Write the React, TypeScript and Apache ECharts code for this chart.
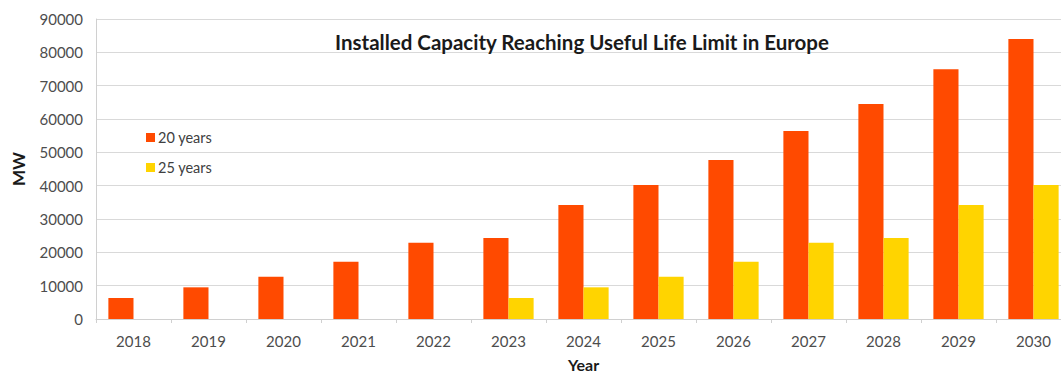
import React, { useEffect, useRef } from "react";
import * as echarts from "echarts";

const years = ["2018", "2019", "2020", "2021", "2022", "2023", "2024", "2025", "2026", "2027", "2028", "2029", "2030"];
const twentyYears = [6300, 9500, 12700, 17200, 22900, 24300, 34200, 40200, 47700, 56400, 64500, 74900, 84000];
const twentyFiveYears = [0, 0, 0, 0, 0, 6300, 9500, 12700, 17200, 22900, 24300, 34200, 40200];
const seriesNames = ["20 years", "25 years"];

const FONT = "Lato, 'Open Sans', sans-serif";

export default function App() {
  const ref = useRef<HTMLDivElement>(null);

  useEffect(() => {
    if (!ref.current) return;
    const chart = echarts.init(ref.current, undefined, { renderer: "svg" });
    chart.setOption({
      animation: false,
      backgroundColor: "#ffffff",
      textStyle: { fontFamily: FONT },
      title: {
        text: "Installed Capacity Reaching Useful Life Limit in Europe",
        left: 577,
        top: 26,
        textAlign: "center",
        textStyle: { fontFamily: FONT, fontSize: 20.5, fontWeight: "bold", color: "#1a1a1a" },
      },
      legend: {
        orient: "vertical",
        left: 141,
        top: 125,
        itemWidth: 9,
        itemHeight: 9,
        itemGap: 15,
        icon: "rect",
        data: seriesNames,
        textStyle: { fontFamily: FONT, fontSize: 14.5, color: "#404040", padding: [0, 0, 0, -2] },
      },
      grid: { left: 96, top: 19, height: 300, width: 975, outerBoundsMode: "none", containLabel: false },
      xAxis: {
        type: "category",
        data: years,
        name: "Year",
        nameLocation: "middle",
        nameGap: 37,
        nameTextStyle: { fontFamily: FONT, fontSize: 16, fontWeight: "bold", color: "#1a1a1a" },
        axisLine: { lineStyle: { color: "#d0d0d0" } },
        axisTick: { show: true, length: 4, lineStyle: { color: "#d0d0d0" } },
        axisLabel: { fontFamily: FONT, fontSize: 15, color: "#4d4d4d", margin: 14 },
      },
      yAxis: {
        type: "value",
        min: 0,
        max: 90000,
        interval: 10000,
        name: "MW",
        nameLocation: "middle",
        nameGap: 69,
        nameRotate: 90,
        nameTextStyle: { fontFamily: FONT, fontSize: 17, fontWeight: "bold", color: "#1a1a1a" },
        axisLine: { show: true, lineStyle: { color: "#d0d0d0" } },
        axisTick: { show: false },
        axisLabel: {
          fontFamily: FONT,
          fontSize: 15,
          color: "#4d4d4d",
          margin: 13,
          formatter: (v: number) => String(v),
        },
        splitLine: { lineStyle: { color: "#d9d9d9" } },
      },
      series: [
        {
          name: seriesNames[0],
          type: "bar",
          data: twentyYears,
          itemStyle: { color: "#ff4a00" },
          barGap: "0%",
          barCategoryGap: "33%",
        },
        {
          name: seriesNames[1],
          type: "bar",
          data: twentyFiveYears,
          itemStyle: { color: "#ffd400" },
          barGap: "0%",
          barCategoryGap: "33%",
        },
      ],
    });
    return () => chart.dispose();
  }, []);

  return (
    <div
      ref={ref}
      style={{ position: "fixed", left: 0, top: 0, width: 1061, height: 376 }}
    />
  );
}
